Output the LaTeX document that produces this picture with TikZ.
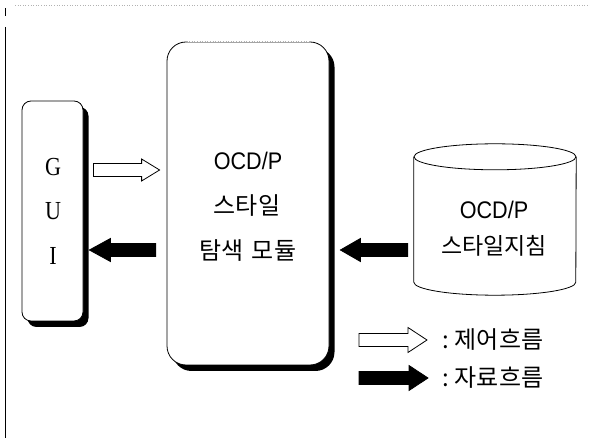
\documentclass[tikz,border=0pt]{standalone}
\usepackage{fontspec}
\newfontfamily\kr{Noto Sans CJK KR}
\newfontfamily\arl{Liberation Sans}[FakeStretch=0.9]
\newfontfamily\tms{Liberation Serif}[FakeStretch=0.85]
\usetikzlibrary{calc,shadows}
\newcommand\fatarr[5]{% #1 style, #2 tail, #3 tip, #4 signed head length, #5 head half width
  \path[#1] let \p1=(#2), \p2=(#3) in
   (\x1,\y1+6.5pt) -- (\x2-#4pt,\y1+6.5pt) -- (\x2-#4pt,\y1+#5pt) -- (\x2,\y1)
   -- (\x2-#4pt,\y1-#5pt) -- (\x2-#4pt,\y1-6.5pt) -- (\x1,\y1-6.5pt) -- cycle;}
\begin{document}
\begin{tikzpicture}[x=1pt,y=-1pt,
  boxsh/.style={draw=black, line width=0.8pt, fill=white, rounded corners=#1,
    general shadow={fill=black, shadow xshift=5.5pt, shadow yshift=-6pt}},
  guitxt/.style={font=\tms\fontsize{26}{26}\selectfont, inner sep=0pt},
  krtxt/.style={font=\kr\fontsize{#1}{#1}\selectfont, inner sep=0pt},
  artxt/.style={font=\arl\fontsize{24}{24}\selectfont, inner sep=0pt},
  whitearr/.style={draw=black, line width=0.8pt, fill=white},
  blackarr/.style={draw=black, line width=0.8pt, fill=black}]
\useasboundingbox (0,0) rectangle (590,438);
% outer frame remnants
\draw[line width=0.9pt] (5,27) -- (5,438);
\draw[line width=0.8pt] (5,8) -- (5,16);
\draw[gray!60, dotted, line width=0.6pt] (15,5) -- (590,5);
% flow rows
\coordinate (rowA) at (0,170);
\coordinate (rowB) at (0,250);
% GUI box
\node[boxsh=9pt, minimum width=61pt, minimum height=220pt] (gui) at (52.5,211) {};
\node[guitxt] (g) at (53,167) {G};
\node[guitxt] (u) at (53,211) {U};
\node[guitxt] (i) at (53,256) {I};
% main module box
\node[boxsh=19pt, minimum width=162pt, minimum height=323pt] (main) at (248,203.5) {};
\draw[white, line width=1.6pt] ($(main.north west)+(20,0)$) -- ($(main.north east)+(-20,0)$);
\draw[gray!60, dotted, line width=0.6pt] ($(main.north west)+(20,0)$) -- ($(main.north east)+(-20,0)$);
\node[artxt] (t1) at (248,161) {OCD/P};
\node[krtxt=24] (t2) at (247,206) {스타일};
\node[krtxt=24] (t3) at (248,251) {탐색\hspace{8pt}모듈};
% database cylinder
\node[minimum width=162pt, minimum height=125pt, inner sep=0pt] (db) at (495,219.5) {};
\draw[fill=white, line width=0.8pt] (db.north west) -- (db.south west)
  arc[start angle=180, end angle=360, x radius=81pt, y radius=13pt] -- (db.north east);
\draw[line width=0.8pt] (db.north) ellipse[x radius=81pt, y radius=13pt];
\node[artxt] (d1) at (494,210) {OCD/P};
\node[krtxt=23] (d2) at (494,246) {스타일지침};
% flow arrows between nodes
\coordinate (w1s) at ($(gui.east |- rowA)+(10,0)$);
\coordinate (w1e) at ($(main.west |- rowA)+(-7,0)$);
\fatarr{whitearr}{w1s}{w1e}{18}{11}
\coordinate (b1s) at ($(main.west |- rowB)+(-11,0)$);
\coordinate (b1e) at ($(gui.east |- rowB)+(6,0)$);
\fatarr{blackarr}{b1s}{b1e}{-21}{11.5}
\coordinate (b2s) at ($(db.west |- rowB)+(-6,0)$);
\coordinate (b2e) at ($(main.east |- rowB)+(11,0)$);
\fatarr{blackarr}{b2s}{b2e}{-20}{11.5}
% legend
\node[krtxt=24, anchor=west] (l1) at (442,340) {:\hspace{6pt}제어흐름};
\node[krtxt=24, anchor=west] (l2) at (442,378) {:\hspace{6pt}자료흐름};
\coordinate (l1s) at (359,340);
\coordinate (l1e) at ($(l1.west)+(-15,0)$);
\fatarr{whitearr}{l1s}{l1e}{19}{12.5}
\coordinate (l2s) at (359,378);
\coordinate (l2e) at ($(l2.west)+(-14,0)$);
\fatarr{blackarr}{l2s}{l2e}{19}{12.5}
\end{tikzpicture}
\end{document}
